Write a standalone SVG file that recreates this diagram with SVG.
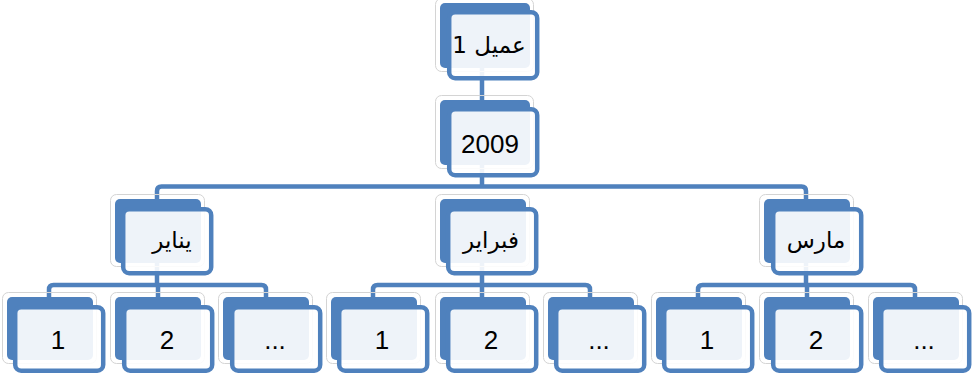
<svg xmlns="http://www.w3.org/2000/svg" width="973" height="378" viewBox="0 0 973 378">
<style>
.halo{fill:none;stroke:#d4d4d4;stroke-width:1}
.back{fill:#4F81BD}
.front{fill:#ffffff;fill-opacity:0.9;stroke:#4F81BD;stroke-width:4.5}
.conn{fill:none;stroke:#4F81BD;stroke-width:4.5;stroke-linejoin:round}
.t{font-family:"Liberation Sans","DejaVu Sans",sans-serif;font-size:26px;fill:#000;text-anchor:middle}
.ar{font-family:"DejaVu Sans","Liberation Sans",sans-serif;font-size:23px;fill:#000;text-anchor:middle}
</style>
<rect width="973" height="378" fill="#ffffff"/>
<g id="connectors">
<path class="conn" d="M482 60V105"/>
<path class="conn" d="M482 160V186.5"/>
<path class="conn" d="M157 203V191Q157 186.5 161.5 186.5H801.5Q806 186.5 806 191V203"/>
<path class="conn" d="M157 262V285"/>
<path class="conn" d="M49 298V289.5Q49 285 53.5 285H261.5Q266 285 266 289.5V298"/>
<path class="conn" d="M158 285V298"/>
<path class="conn" d="M482 262V285"/>
<path class="conn" d="M373 298V289.5Q373 285 377.5 285H585.5Q590 285 590 289.5V298"/>
<path class="conn" d="M482 285V298"/>
<path class="conn" d="M806 262V285"/>
<path class="conn" d="M698 298V289.5Q698 285 702.5 285H910.5Q915 285 915 289.5V298"/>
<path class="conn" d="M807 285V298"/>
</g>
<g id="n-client">
<rect class="halo" x="435.5" y="-1.5" width="98" height="73" rx="6"/>
<rect class="back" x="440" y="3" width="90" height="65" rx="5"/>
<rect class="front" x="449.2" y="12.2" width="88" height="66" rx="6"/>
<text class="ar" x="489" y="53">عميل 1</text>
</g>
<g id="n-2009">
<rect class="halo" x="435.5" y="95.5" width="98" height="73" rx="6"/>
<rect class="back" x="440" y="100" width="90" height="65" rx="5"/>
<rect class="front" x="449.2" y="109.2" width="88" height="66" rx="6"/>
<text class="t" x="490" y="153">2009</text>
</g>
<g id="n-jan">
<rect class="halo" x="110.5" y="194.5" width="94" height="72" rx="6"/>
<rect class="back" x="115" y="199" width="86" height="64" rx="5"/>
<rect class="front" x="123.2" y="209.2" width="88" height="64" rx="6"/>
<text class="ar" x="172" y="248">يناير</text>
</g>
<g id="n-feb">
<rect class="halo" x="435.5" y="194.5" width="94" height="72" rx="6"/>
<rect class="back" x="440" y="199" width="86" height="64" rx="5"/>
<rect class="front" x="448.2" y="209.2" width="88" height="64" rx="6"/>
<text class="ar" x="491" y="248">فبراير</text>
</g>
<g id="n-mar">
<rect class="halo" x="759.5" y="194.5" width="94" height="72" rx="6"/>
<rect class="back" x="764" y="199" width="86" height="64" rx="5"/>
<rect class="front" x="773.2" y="209.2" width="88" height="64" rx="6"/>
<text class="ar" x="816" y="248">مارس</text>
</g>
<g id="n-jan-1">
<rect class="halo" x="2.5" y="292.5" width="94" height="71" rx="6"/>
<rect class="back" x="7" y="297" width="86" height="63" rx="5"/>
<rect class="front" x="15.2" y="307.2" width="88" height="63.5" rx="6"/>
<text class="t" x="58" y="349">1</text>
</g>
<g id="n-jan-2">
<rect class="halo" x="110.5" y="292.5" width="94" height="71" rx="6"/>
<rect class="back" x="115" y="297" width="86" height="63" rx="5"/>
<rect class="front" x="124.2" y="307.2" width="88" height="63.5" rx="6"/>
<text class="t" x="167" y="349">2</text>
</g>
<g id="n-jan-3">
<rect class="halo" x="218.5" y="292.5" width="94" height="71" rx="6"/>
<rect class="back" x="223" y="297" width="86" height="63" rx="5"/>
<rect class="front" x="232.2" y="307.2" width="88" height="63.5" rx="6"/>
<text class="t" x="275" y="349">...</text>
</g>
<g id="n-feb-1">
<rect class="halo" x="326.5" y="292.5" width="94" height="71" rx="6"/>
<rect class="back" x="331" y="297" width="86" height="63" rx="5"/>
<rect class="front" x="339.2" y="307.2" width="88" height="63.5" rx="6"/>
<text class="t" x="382" y="349">1</text>
</g>
<g id="n-feb-2">
<rect class="halo" x="435.5" y="292.5" width="94" height="71" rx="6"/>
<rect class="back" x="440" y="297" width="86" height="63" rx="5"/>
<rect class="front" x="448.2" y="307.2" width="88" height="63.5" rx="6"/>
<text class="t" x="491" y="349">2</text>
</g>
<g id="n-feb-3">
<rect class="halo" x="543.5" y="292.5" width="94" height="71" rx="6"/>
<rect class="back" x="548" y="297" width="86" height="63" rx="5"/>
<rect class="front" x="556.2" y="307.2" width="88" height="63.5" rx="6"/>
<text class="t" x="599" y="349">...</text>
</g>
<g id="n-mar-1">
<rect class="halo" x="651.5" y="292.5" width="94" height="71" rx="6"/>
<rect class="back" x="656" y="297" width="86" height="63" rx="5"/>
<rect class="front" x="664.2" y="307.2" width="88" height="63.5" rx="6"/>
<text class="t" x="707" y="349">1</text>
</g>
<g id="n-mar-2">
<rect class="halo" x="759.5" y="292.5" width="94" height="71" rx="6"/>
<rect class="back" x="764" y="297" width="86" height="63" rx="5"/>
<rect class="front" x="773.2" y="307.2" width="88" height="63.5" rx="6"/>
<text class="t" x="816" y="349">2</text>
</g>
<g id="n-mar-3">
<rect class="halo" x="868.5" y="292.5" width="94" height="71" rx="6"/>
<rect class="back" x="873" y="297" width="86" height="63" rx="5"/>
<rect class="front" x="881.2" y="307.2" width="88" height="63.5" rx="6"/>
<text class="t" x="924" y="349">...</text>
</g>
</svg>
